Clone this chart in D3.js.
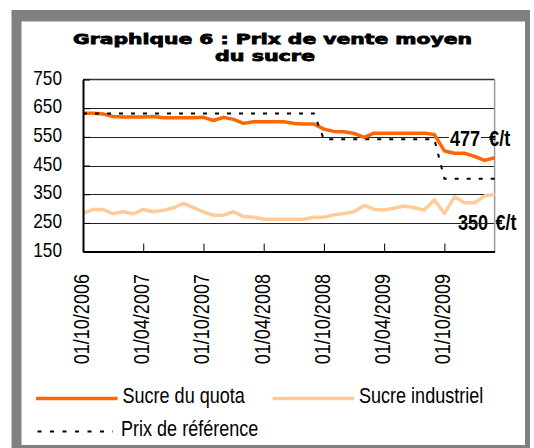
<!DOCTYPE html>
<html>
<head>
<meta charset="utf-8">
<script src="https://cdn.jsdelivr.net/npm/d3@7"></script>
<style>
  body { margin: 0; background: #fff; }
</style>
</head>
<body>
<svg id="chart"></svg>
<script>
// Données (prix mensuels, €/t)
const months = [
  "01/10/2006", "01/11/2006", "01/12/2006",
  "01/01/2007", "01/02/2007", "01/03/2007", "01/04/2007", "01/05/2007", "01/06/2007",
  "01/07/2007", "01/08/2007", "01/09/2007", "01/10/2007", "01/11/2007", "01/12/2007",
  "01/01/2008", "01/02/2008", "01/03/2008", "01/04/2008", "01/05/2008", "01/06/2008",
  "01/07/2008", "01/08/2008", "01/09/2008", "01/10/2008", "01/11/2008", "01/12/2008",
  "01/01/2009", "01/02/2009", "01/03/2009", "01/04/2009", "01/05/2009", "01/06/2009",
  "01/07/2009", "01/08/2009", "01/09/2009", "01/10/2009", "01/11/2009", "01/12/2009",
  "01/01/2010", "01/02/2010", "01/03/2010"
];

const quota = [632, 632, 630, 621, 619, 619, 619, 621, 617, 617,
               617, 617, 618, 607, 618, 611, 597, 603, 603, 603,
               603, 597, 595, 595, 577, 569, 568, 562, 548, 563,
               563, 563, 563, 563, 563, 558, 501, 493, 493, 482,
               468, 477];

const industriel = [283, 297, 297, 282, 289, 282, 297, 289, 294, 302,
                    318, 303, 288, 277, 277, 289, 272, 270, 263, 263,
                    263, 263, 263, 270, 270, 278, 283, 289, 311, 297,
                    295, 301, 309, 303, 295, 330, 283, 341, 320, 320,
                    344, 350];

const reference = [631.9, 631.9, 631.9, 631.9, 631.9, 631.9, 631.9, 631.9, 631.9, 631.9,
                   631.9, 631.9, 631.9, 631.9, 631.9, 631.9, 631.9, 631.9, 631.9, 631.9,
                   631.9, 631.9, 631.9, 631.9, 541.5, 541.5, 541.5, 541.5, 541.5, 541.5,
                   541.5, 541.5, 541.5, 541.5, 541.5, 541.5, 404.4, 404.4, 404.4, 404.4,
                   404.4, 404.4];

const seriesNames = ["Sucre du quota", "Sucre industriel", "Prix de référence"];
const yTicks = [150, 250, 350, 450, 550, 650, 750];
const xTickLabels = ["01/10/2006", "01/04/2007", "01/10/2007", "01/04/2008",
                     "01/10/2008", "01/04/2009", "01/10/2009"];

// Mise en page
const width = 534;
const height = 448;
const plotLeft = 83, plotRight = 494.6, plotTop = 79.5, plotBottom = 251.6;
const font = "'Liberation Sans', Arial, sans-serif";
const narrow = "scale(0.82,1)";

const svg = d3.select("#chart")
  .attr("width", width)
  .attr("height", height);

// Cadre gris
svg.append("rect")
  .attr("x", 11.5).attr("y", 10)
  .attr("width", 518.5).attr("height", 440)
  .attr("fill", "#808080");
svg.append("rect")
  .attr("x", 21.5).attr("y", 21.5)
  .attr("width", 503.5).attr("height", 423.5)
  .attr("fill", "#fff");

// Titre (gras épais)
[["Graphique 6 : Prix de vente moyen", 272.5, 44, 399],
 ["du sucre", 265, 61, 100]].forEach(([txt, tx, ty, len]) => {
  svg.append("text")
    .attr("x", tx).attr("y", ty)
    .attr("text-anchor", "middle")
    .attr("font-family", "'DejaVu Sans', sans-serif")
    .attr("font-weight", "bold")
    .attr("font-size", 14.5)
    .attr("stroke", "#000")
    .attr("stroke-width", 0.8)
    .attr("textLength", len)
    .attr("lengthAdjust", "spacingAndGlyphs")
    .text(txt);
});

// Echelles
const x = d3.scalePoint().domain(months).range([plotLeft, plotRight]);
const y = d3.scaleLinear().domain([150, 750]).range([plotBottom, plotTop]);

// Etiquette sucre industriel (sous le quadrillage)
svg.append("text")
  .attr("transform", `translate(458,230) ${narrow}`)
  .attr("font-family", font)
  .attr("font-weight", "bold")
  .attr("font-size", 22)
  .call(t => {
    t.append("tspan").text(industriel[industriel.length - 1]);
    t.append("tspan").attr("dx", 9).text("€/t");
  });

// Quadrillage
svg.selectAll(".grid")
  .data(yTicks.slice(1, -1))
  .enter()
  .append("line")
  .attr("class", "grid")
  .attr("x1", plotLeft).attr("x2", plotRight)
  .attr("y1", d => Math.round(y(d)) + 0.5)
  .attr("y2", d => Math.round(y(d)) + 0.5)
  .attr("stroke", "#222")
  .attr("stroke-width", 1);

// Bordure haut et droite
svg.append("line")
  .attr("x1", plotLeft).attr("x2", plotRight)
  .attr("y1", y(750)).attr("y2", y(750))
  .attr("stroke", "#333").attr("stroke-width", 1.5);
svg.append("line")
  .attr("x1", plotRight).attr("x2", plotRight)
  .attr("y1", y(750)).attr("y2", plotBottom)
  .attr("stroke", "#999").attr("stroke-width", 1.5);

// Courbes
const line = d3.line()
  .x((d, i) => x(months[i]))
  .y(d => y(d));

svg.append("path")
  .datum(industriel)
  .attr("d", line)
  .attr("fill", "none")
  .attr("stroke", "#FFCC99")
  .attr("stroke-width", 3.5)
  .attr("stroke-linejoin", "round");

svg.append("path")
  .datum(quota)
  .attr("d", line)
  .attr("fill", "none")
  .attr("stroke", "#FF6600")
  .attr("stroke-width", 3.5)
  .attr("stroke-linejoin", "round");

svg.append("path")
  .datum(reference)
  .attr("d", line)
  .attr("fill", "none")
  .attr("stroke", "#000")
  .attr("stroke-width", 2)
  .attr("stroke-dasharray", "4,8");

// Axes
const yAxis = d3.axisLeft(y)
  .tickValues(yTicks)
  .tickSizeInner(-7)
  .tickSizeOuter(0);

const gy = svg.append("g")
  .attr("id", "y-axis")
  .attr("transform", `translate(${plotLeft}, 0)`)
  .call(yAxis);
gy.select(".domain").attr("stroke", "#000").attr("stroke-width", 2);
gy.selectAll(".tick line").attr("stroke", "#000");
gy.selectAll("text")
  .attr("x", 0).attr("dy", 0)
  .attr("transform", `translate(-21,4.5) ${narrow}`)
  .attr("text-anchor", "end")
  .attr("font-family", font)
  .attr("font-size", 21)
  .attr("fill", "#000");

const xAxis = d3.axisBottom(x)
  .tickValues(xTickLabels)
  .tickSizeInner(-8)
  .tickSizeOuter(0);

const gx = svg.append("g")
  .attr("id", "x-axis")
  .attr("transform", `translate(0, ${plotBottom})`)
  .call(xAxis);
gx.select(".domain").attr("stroke", "#000").attr("stroke-width", 2);
gx.selectAll(".tick line").attr("stroke", "#000");
gx.selectAll("text")
  .attr("x", 0).attr("y", 0).attr("dy", 0)
  .attr("transform", `translate(5.5,22.4) rotate(-90) ${narrow}`)
  .attr("text-anchor", "end")
  .attr("font-family", font)
  .attr("font-size", 22)
  .attr("fill", "#000");

// Etiquette sucre du quota
svg.append("rect")
  .attr("x", 449).attr("y", 128)
  .attr("width", 32).attr("height", 20)
  .attr("fill", "#fff");
svg.append("text")
  .attr("transform", `translate(450,146) ${narrow}`)
  .attr("font-family", font)
  .attr("font-weight", "bold")
  .attr("font-size", 22)
  .call(t => {
    t.append("tspan").text(quota[quota.length - 1]);
    t.append("tspan").attr("dx", 11).text("€/t");
  });

// Légende
const legendItems = [
  { name: seriesNames[0], color: "#FF6600", w: 3.5, dash: null, x1: 36, x2: 117.5, lx: 122.5, row: 0 },
  { name: seriesNames[1], color: "#FFCC99", w: 3.5, dash: null, x1: 272.5, x2: 354, lx: 359, row: 0 },
  { name: seriesNames[2], color: "#000", w: 2, dash: "4,8.5", x1: 37.5, x2: 113, lx: 121, row: 1 }
];

const legend = svg.append("g").attr("class", "legend");
legendItems.forEach(d => {
  const ly = 398.5 + d.row * 33;
  legend.append("line")
    .attr("x1", d.x1).attr("x2", d.x2)
    .attr("y1", ly).attr("y2", ly)
    .attr("stroke", d.color)
    .attr("stroke-width", d.w)
    .attr("stroke-dasharray", d.dash);
  legend.append("text")
    .attr("transform", `translate(${d.lx},${ly + 4}) ${narrow}`)
    .attr("font-family", font)
    .attr("font-size", 22)
    .text(d.name);
});
</script>
</body>
</html>
